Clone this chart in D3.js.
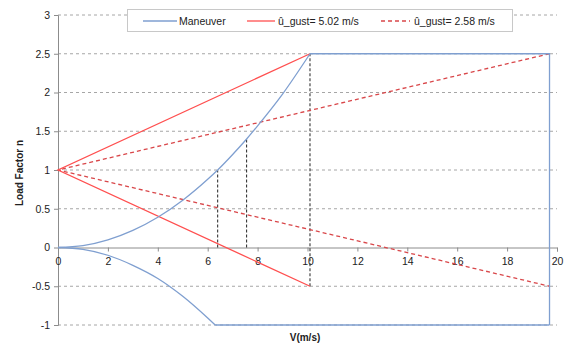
<!DOCTYPE html>
<html><head><meta charset="utf-8">
<script src="https://cdn.jsdelivr.net/npm/d3@7"></script>
<style>body{margin:0;background:#fff}text{font-family:"Liberation Sans",Arial,sans-serif}</style>
</head><body><svg id="c" width="574" height="349"></svg>
<script>
// Data
const xTicks = [0,2,4,6,8,10,12,14,16,18,20];
const yTicks = [-1,-0.5,0,0.5,1,1.5,2,2.5,3];
const maneuverPosV = [0,1,2,3,4,5,6,6.4,7,7.56,8,9,10.1];
const maneuverPosN = [0,0.024,0.098,0.22,0.39,0.61,0.88,1.0,1.2,1.4,1.57,1.98,2.5];
const maneuverTopV = [10.1,19.7,19.7];
const maneuverTopN = [2.5,2.5,-1];
const maneuverNegV = [0,1,2,3,4,5,6,6.3];
const maneuverNegN = [0,-0.025,-0.10,-0.23,-0.40,-0.63,-0.91,-1];
const maneuverBotV = [6.3,19.7];
const maneuverBotN = [-1,-1];
const gust502V = [10.1,0,10.1];
const gust502N = [2.5,1,-0.5];
const gust258V = [19.7,0,19.7];
const gust258N = [2.5,1,-0.5];
const guideV = [6.4,7.56,10.1];
const guideLo = [0,0,-0.5];
const guideHi = [1.0,1.4,2.5];
const legendLabels = ["Maneuver","û_gust= 5.02 m/s","û_gust= 2.58 m/s"];

const svg = d3.select("#c");
const x = d3.scaleLinear().domain([0,20]).range([58,557]);
const y = d3.scaleLinear().domain([-1,3]).range([325,15]);
const blue="#7f9fd0", red="#ff4f4f", red2="#d9474a";
const fmt = d => String(d);

// grid
svg.append("g").selectAll("line").data(yTicks.filter(d=>d!==0)).join("line")
  .attr("x1",x(0)).attr("x2",x(20)).attr("y1",d=>y(d)).attr("y2",d=>y(d))
  .attr("stroke","#a6a6a6").attr("stroke-dasharray","3,3");

// y axis
const ya = svg.append("g").attr("transform",`translate(${x(0)},0)`)
  .call(d3.axisLeft(y).tickValues(yTicks).tickFormat(fmt).tickSize(4).tickPadding(4));
ya.select(".domain").attr("stroke","#8c8c8c");
ya.selectAll(".tick line").attr("stroke","#8c8c8c");
ya.selectAll("text").attr("font-size",10.5).attr("fill","#222").attr("font-family","Liberation Sans, Arial");

// x axis at y=0
const xa = svg.append("g").attr("transform",`translate(0,${y(0)})`)
  .call(d3.axisBottom(x).tickValues(xTicks).tickFormat(fmt).tickSize(4).tickPadding(6));
xa.select(".domain").attr("stroke","#8c8c8c");
xa.selectAll(".tick line").attr("stroke","#8c8c8c");
xa.selectAll("text").attr("font-size",10.5).attr("fill","#222").attr("font-family","Liberation Sans, Arial");

const line = d3.line().x(d=>x(d[0])).y(d=>y(d[1]));
const curve = d3.line().x(d=>x(d[0])).y(d=>y(d[1])).curve(d3.curveMonotoneX);
const zip=(a,b)=>a.map((v,i)=>[v,b[i]]);

// guide lines
guideV.forEach((v,i)=>{
  svg.append("line").attr("x1",x(v)).attr("x2",x(v)).attr("y1",y(guideLo[i])).attr("y2",y(guideHi[i]))
    .attr("stroke","#222").attr("stroke-dasharray","3,2").attr("stroke-width",1);
});

svg.append("path").attr("d",line(zip(gust258V,gust258N))).attr("fill","none")
  .attr("stroke",red2).attr("stroke-width",1.3).attr("stroke-dasharray","4,3");
svg.append("path").attr("d",line(zip(gust502V,gust502N))).attr("fill","none")
  .attr("stroke",red).attr("stroke-width",1.3);
[[maneuverPosV,maneuverPosN,curve],[maneuverNegV,maneuverNegN,curve],
 [maneuverTopV,maneuverTopN,line],[maneuverBotV,maneuverBotN,line]].forEach(([a,b,g])=>{
  svg.append("path").attr("d",g(zip(a,b))).attr("fill","none")
    .attr("stroke",blue).attr("stroke-width",1.3);
});

// legend
const lg = svg.append("g");
lg.append("rect").attr("x",127.5).attr("y",9.5).attr("width",385).attr("height",22)
  .attr("fill","#fff").attr("stroke","#c8c8c8");
const items=[{x1:143,x2:177,tx:179,c:blue,d:null},{x1:247,x2:275,tx:278,c:red,d:null},{x1:381,x2:410,tx:414,c:red2,d:"4,3"}];
items.forEach((it,i)=>{
  lg.append("line").attr("x1",it.x1).attr("x2",it.x2).attr("y1",21).attr("y2",21)
    .attr("stroke",it.c).attr("stroke-width",1.3).attr("stroke-dasharray",it.d);
  lg.append("text").attr("x",it.tx).attr("y",24.8).attr("font-size",10.5).attr("fill","#222").text(legendLabels[i]);
});

// axis titles
svg.append("text").attr("x",305).attr("y",341).attr("text-anchor","middle")
  .attr("font-size",10).attr("font-weight","bold").attr("fill","#222").text("V(m/s)");
svg.append("text").attr("transform","translate(23,173) rotate(-90)").attr("text-anchor","middle")
  .attr("font-size",10).attr("font-weight","bold").attr("fill","#222").text("Load Factor n");
</script></body></html>
